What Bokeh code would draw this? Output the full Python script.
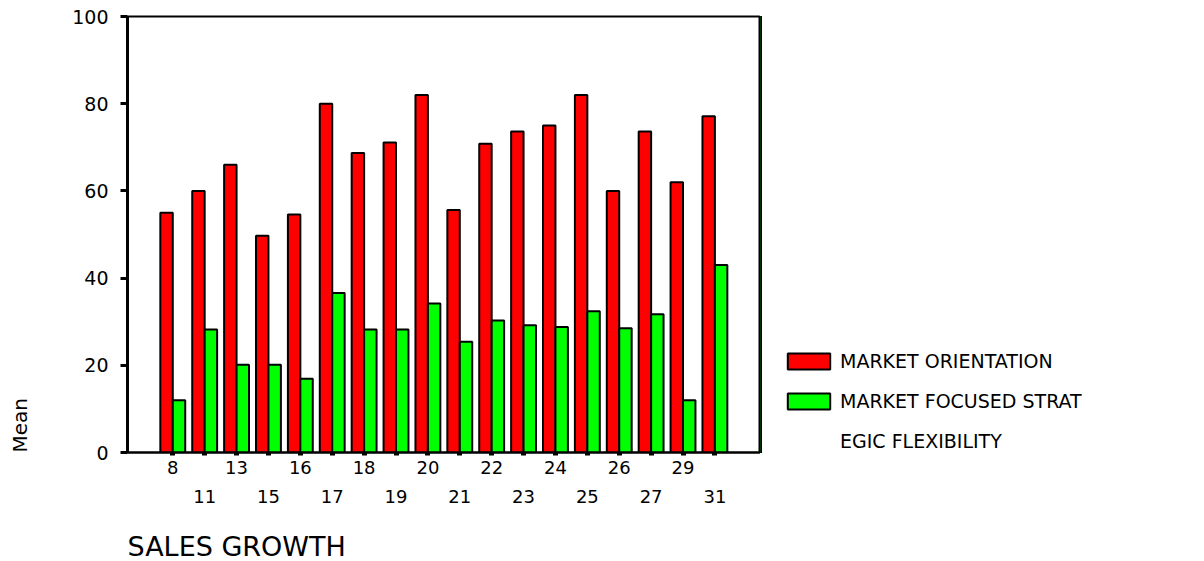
from bokeh.plotting import figure
from bokeh.models import (Range1d, FixedTicker, LinearAxis, Legend, LegendItem,
                          Title, ColumnDataSource)
from bokeh.transform import dodge
from bokeh.layouts import row
from bokeh.embed import file_html
from bokeh.resources import INLINE

categories = ["8", "11", "13", "15", "16", "17", "18", "19", "20",
              "21", "22", "23", "24", "25", "26", "27", "29", "31"]
market_orientation = [55.0, 60.0, 66.0, 49.7, 54.6, 80.0, 68.7, 71.1, 82.0,
                      55.6, 70.8, 73.6, 75.0, 82.0, 60.0, 73.6, 62.0, 77.1]
strategic_flexibility = [12.0, 28.2, 20.1, 20.1, 16.9, 36.6, 28.2, 28.2, 34.2,
                         25.4, 30.3, 29.2, 28.8, 32.4, 28.5, 31.7, 12.0, 43.0]
y_ticks = [0, 20, 40, 60, 80, 100]
legend_labels = ["MARKET ORIENTATION", "MARKET FOCUSED STRAT", "EGIC FLEXIBILITY"]

FONT = "DejaVu Sans"
RED = "#ff0000"
GREEN = "#00ff00"
X_START, X_END = -1.42, 18.43
idx = list(range(len(categories)))
src = ColumnDataSource(dict(x=idx, mo=market_orientation, sf=strategic_flexibility))

p = figure(width=760, height=561,
           x_range=Range1d(X_START, X_END), y_range=Range1d(0, 100),
           output_backend="svg", toolbar_location=None,
           min_border_left=127, min_border_right=0,
           min_border_top=16, min_border_bottom=108)

r1 = p.vbar(x=dodge('x', -0.195, range=p.x_range), top='mo', width=0.39, source=src,
            fill_color=RED, line_color="black", line_width=2)
r2 = p.vbar(x=dodge('x', 0.195, range=p.x_range), top='sf', width=0.39, source=src,
            fill_color=GREEN, line_color="black", line_width=2)

p.xgrid.visible = False
p.ygrid.visible = False
p.outline_line_color = "black"
p.outline_line_width = 2
p.outline_line_alpha = 1

# y axis
ya = p.yaxis[0]
ya.ticker = FixedTicker(ticks=y_ticks)
ya.axis_line_width = 3
ya.major_tick_out = 7
ya.major_tick_in = 0
ya.major_tick_line_width = 3
ya.minor_tick_line_color = None
ya.major_label_standoff = 12
ya.major_label_text_font = FONT
ya.major_label_text_font_size = "19px"
ya.major_label_text_color = "black"

# x axis row 1
xa = p.xaxis[0]
xa.ticker = FixedTicker(ticks=idx)
xa.major_label_overrides = {i: (c if i % 2 == 0 else "") for i, c in enumerate(categories)}
xa.axis_line_width = 2
xa.major_tick_out = 3
xa.major_tick_in = 0
xa.major_tick_line_width = 5
xa.minor_tick_line_color = None
xa.major_label_standoff = 5
xa.major_label_text_font = FONT
xa.major_label_text_font_size = "18px"
xa.major_label_text_color = "black"

# x axis row 2 (staggered labels)
xa2 = LinearAxis(ticker=FixedTicker(ticks=idx),
                 major_label_overrides={i: (c if i % 2 == 1 else "") for i, c in enumerate(categories)},
                 axis_line_color=None, major_tick_line_color=None, minor_tick_line_color=None,
                 major_tick_out=0, major_tick_in=0, major_label_standoff=13,
                 major_label_text_font=FONT, major_label_text_font_size="18px",
                 major_label_text_color="black")
p.add_layout(xa2, "below")


def spacer_axis(gap, at):
    # an axis drawn in white that only reserves room between the tick labels and the title
    return LinearAxis(ticker=FixedTicker(ticks=[at]), major_label_overrides={at: ""},
                      axis_line_color=None, major_tick_line_color="white",
                      major_tick_line_width=1, minor_tick_line_color=None,
                      major_tick_out=gap, major_tick_in=0, major_label_standoff=0,
                      major_label_text_font_size="1px")


p.add_layout(spacer_axis(23, X_START), "below")
p.add_layout(spacer_axis(38, 0), "left")

p.add_layout(Title(text="SALES GROWTH", align="left", text_font=FONT,
                   text_color="black", text_font_size="27px", text_font_style="normal",
                   standoff=0), "below")
p.add_layout(Title(text="Mean", align="left", text_font=FONT,
                   text_color="black", text_font_size="20px", text_font_style="normal",
                   standoff=0), "left")

# legend panel to the right of the chart (its swatches use the same data, out of view)
p2 = figure(width=444, height=561, x_range=Range1d(100, 101), y_range=Range1d(0, 1),
            output_backend="svg", toolbar_location=None,
            x_axis_location=None, y_axis_location=None, min_border=0)
p2.grid.visible = False
p2.outline_line_color = None
s1 = p2.vbar(x='x', top='mo', width=0.39, source=src,
             fill_color=RED, line_color="black", line_width=2)
s2 = p2.vbar(x='x', top='sf', width=0.39, source=src,
             fill_color=GREEN, line_color="black", line_width=2)

legend = Legend(items=[LegendItem(label=legend_labels[0], renderers=[s1]),
                       LegendItem(label=legend_labels[1], renderers=[s2]),
                       LegendItem(label=legend_labels[2], renderers=[])],
                location=(22, 0), glyph_width=53, glyph_height=20, label_standoff=5,
                spacing=18, padding=0, margin=0, border_line_color=None,
                background_fill_alpha=0, label_text_font=FONT,
                label_text_font_size="19px", label_text_color="black")
p2.add_layout(legend, "center")

open("out.html", "w").write(file_html(row(p, p2), INLINE))
